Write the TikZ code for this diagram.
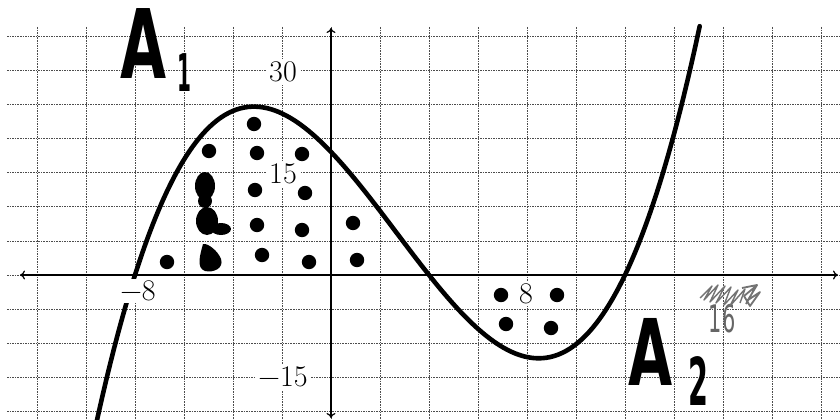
\documentclass[tikz,border=0pt]{standalone}
\usepackage{fontspec}
\usetikzlibrary{arrows.meta}
\newfontfamily\handfont{DejaVu Sans}
\newfontfamily\lmfont{Latin Modern Roman}
\begin{document}
\begin{tikzpicture}[x=1pt,y=-1pt,
  gridline/.style={draw=black!70, line width=0.7pt, dash pattern=on 1.6pt off 1pt},
  axisline/.style={draw=black, line width=1.2pt, {To[length=5pt,width=9pt]}-{To[length=5pt,width=9pt]}},
  ticklabel/.style={fill=white, inner sep=3pt, font=\lmfont\fontsize{30}{32}\selectfont},
  dot/.style={fill=black},
  handA/.style={inner sep=0pt, font=\handfont\bfseries\fontsize{96}{100}\selectfont, xscale=0.62},
  handsub/.style={inner sep=0pt, font=\handfont\bfseries\fontsize{52}{56}\selectfont, xscale=0.7},
]
\useasboundingbox (0,0) rectangle (840,420);
\clip (0,0) rectangle (840,420);
\fill[white] (0,0) rectangle (840,420);
% grid
\foreach \gx in {37,86,...,821} \draw[gridline] (\gx,27) -- (\gx,420);
\foreach \k in {-7,...,4} \draw[gridline] (7,{275+34.1*\k}) -- (840,{275+34.1*\k});
% axes
\coordinate (xl) at (20,275);
\coordinate (xr) at (838,275);
\coordinate (yt) at (331,28);
\coordinate (yb) at (331,418);
\draw[axisline] (xl) -- (xr);
\draw[axisline] (yt) -- (yb);
% curve
\draw[line width=4.6pt, line cap=round] plot[domain=-9.8:15.05, samples=160, smooth]
  ({331+24.5*\x}, {275-6.82*0.047*(\x+8)*(\x-4)*(\x-12)});
% tick labels
\node[ticklabel] (l30) at (283,72) {30};
\node[ticklabel] (l15) at (283,174) {15};
\node[ticklabel] (lm15) at (283,377) {−15};
\node[ticklabel, inner sep=2pt] (lm8) at (138,291) {−8};
\node[ticklabel, inner sep=2pt] (l8) at (526,294) {8};
% dots
\foreach \p in {(254,124),(209,151),(257,153),(302,154),(255,190),(305,193),
  (257,225),(302,230),(353,223),(167,262),(262,255),(309,262),(357,260),
  (501,295),(557,295),(506,324),(551,328)}
  \fill[dot] \p circle (7.2);
% blobs
\fill[dot] (205,186) ellipse (10 and 14);
\fill[dot] (205,201) ellipse (7 and 7);
\fill[dot] (207,221) ellipse (11 and 14);
\fill[dot] (221,229) ellipse (10 and 6);
\fill[dot] (203,244) .. controls (200,255) and (196,268) .. (205,271)
  .. controls (214,273) and (224,268) .. (221,259) .. controls (218,251) and (208,243) .. cycle;
% handwritten labels
\node[handA] (a1) at (144,44) {A};
\node[handsub, xscale=0.55] (a1s) at (184,73) {1};
\node[handA, font=\handfont\bfseries\fontsize{92}{96}\selectfont] (a2) at (651,352) {A};
\node[handsub, font=\handfont\bfseries\fontsize{66}{70}\selectfont, xscale=0.62] (a2s) at (698,381) {2};
\node[inner sep=0pt, text=black!60, font=\handfont\fontsize{38}{40}\selectfont, xscale=0.55] (n16) at (722,319) {16};
\draw[black!55, line width=1.4pt, line join=round]
  (700,298) -- (712,286) -- (704,300) -- (718,285) -- (710,302) -- (725,286) -- (716,303)
  -- (731,287) -- (724,305) -- (738,290) -- (730,306) -- (745,289) -- (740,303);
\draw[black!55, line width=1.8pt, line join=round]
  (742,288) -- (757,285) -- (748,300) -- (760,292) -- (750,306) -- (744,296) -- (756,286) -- (746,304);
\end{tikzpicture}
\end{document}
